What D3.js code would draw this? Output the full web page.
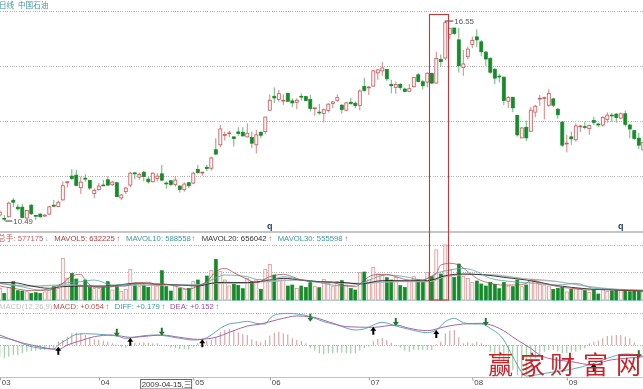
<!DOCTYPE html>
<html>
<head>
<meta charset="utf-8">
<script src="https://cdn.jsdelivr.net/npm/d3@7"></script>
<style>
html, body { margin: 0; padding: 0; background: #fff; overflow: hidden; }
svg { display: block; filter: blur(0.3px); }
text { font-family: "Liberation Sans", "Noto Sans CJK SC", sans-serif; }
</style>
</head>
<body>
<div id="chart"></div>
<script>
var opens = [
10.67,10.57,10.62,11.12,10.91,10.91,10.58,10.97,10.66,10.70,10.64,10.70,
10.97,10.93,11.13,11.65,11.85,11.88,11.50,11.79,11.72,11.32,11.44,11.58,
11.74,11.59,11.65,11.19,11.38,11.58,11.95,11.82,11.97,11.76,11.68,11.78,
11.92,11.64,11.71,11.60,11.55,11.44,11.65,11.64,12.05,11.95,12.12,12.09,
12.65,12.80,13.08,13.14,13.04,13.19,13.18,13.04,13.02,12.80,13.18,13.20,
13.85,14.27,14.17,14.13,14.36,14.13,14.09,14.27,14.26,14.17,13.90,13.79,
13.75,13.84,14.05,14.15,14.00,13.85,14.09,14.06,13.99,14.57,14.53,14.58,
14.98,15.04,15.08,14.63,14.54,14.63,14.49,14.42,14.56,14.92,14.71,14.70,
14.96,14.67,15.39,15.43,16.15,16.34,15.98,15.14,15.47,15.84,16.07,15.92,
15.61,15.42,15.09,14.88,14.85,14.12,14.24,13.69,13.01,13.33,13.21,13.79,
14.19,14.21,14.00,14.19,13.88,13.49,12.83,13.04,12.95,13.35,13.35,13.29,
13.54,13.43,13.40,13.57,13.70,13.73,13.61,13.74,13.40,13.23,13.00,12.65];
var closes = [
10.76,10.55,11.03,11.06,10.86,10.60,10.81,10.71,10.64,10.62,10.67,10.92,
10.94,11.06,11.56,11.68,11.78,11.57,11.67,11.76,11.49,11.42,11.55,11.56,
11.58,11.67,11.23,11.28,11.49,11.94,11.92,11.90,11.84,11.68,11.94,11.85,
11.73,11.62,11.60,11.73,11.45,11.61,11.56,11.94,11.96,11.97,12.08,12.40,
12.52,13.28,13.11,13.16,12.99,13.14,13.07,13.15,12.85,13.10,13.09,13.64,
14.15,14.22,14.35,14.15,14.12,14.07,14.15,14.25,14.14,13.90,13.92,13.77,
13.86,14.03,14.10,14.23,13.87,14.07,14.05,13.99,14.43,14.45,14.55,15.04,
15.07,15.13,14.80,14.59,14.63,14.54,14.42,14.50,14.84,14.72,14.59,14.97,
14.67,15.42,15.32,16.50,16.33,16.17,15.20,15.25,15.70,15.96,15.98,15.62,
15.40,15.00,14.82,14.86,14.14,14.23,13.92,13.10,13.31,13.01,13.85,13.97,
14.21,14.23,14.36,14.00,13.71,12.79,12.85,12.98,13.37,13.37,13.33,13.39,
13.48,13.40,13.63,13.70,13.69,13.63,13.74,13.42,13.28,12.99,12.79,12.87];
var highs = [
10.83,10.67,11.08,11.18,11.00,11.01,10.83,11.00,10.66,10.73,10.70,10.95,
11.13,11.11,11.69,11.69,12.06,12.04,11.84,11.91,11.74,11.48,11.64,11.74,
11.84,11.71,11.66,11.31,11.53,11.98,11.96,11.96,12.00,11.82,11.96,11.94,
12.19,11.69,11.73,11.84,11.57,11.66,11.67,11.98,12.19,11.99,12.19,12.44,
13.00,13.40,13.20,13.23,13.05,13.33,13.33,13.45,13.20,13.25,13.20,13.65,
14.33,14.54,14.46,14.33,14.38,14.21,14.21,14.36,14.28,14.31,13.92,14.04,
13.90,14.06,14.13,14.33,14.04,14.09,14.22,14.11,14.48,14.83,14.58,15.07,
15.09,15.31,15.10,14.77,14.72,14.67,14.53,14.64,14.85,14.97,14.77,14.99,
14.99,15.62,15.54,16.55,16.33,16.34,16.34,15.67,15.78,16.08,16.30,15.98,
15.63,15.45,15.12,14.95,14.86,14.28,14.25,13.70,13.33,13.53,13.94,14.01,
14.31,14.26,14.48,14.23,13.91,13.50,13.10,13.20,13.45,13.40,13.50,13.41,
13.65,13.47,13.67,13.78,13.76,13.76,13.78,13.84,13.42,13.25,13.16,13.05];
var lows = [
10.62,10.49,10.60,10.91,10.81,10.57,10.56,10.67,10.52,10.59,10.62,10.67,
10.91,10.91,11.11,11.51,11.74,11.55,11.31,11.68,11.43,11.18,11.41,11.55,
11.55,11.55,11.21,11.13,11.31,11.51,11.76,11.74,11.69,11.62,11.66,11.69,
11.70,11.47,11.55,11.53,11.35,11.38,11.49,11.62,11.92,11.86,12.00,12.02,
12.49,12.72,12.93,13.03,12.75,13.07,13.05,13.03,12.70,12.54,13.00,13.13,
13.83,14.06,14.11,14.01,14.11,13.94,13.88,14.14,14.13,13.81,13.68,13.71,
13.48,13.78,13.91,14.10,13.74,13.82,14.01,13.91,13.84,14.41,14.31,14.56,
14.77,14.89,14.74,14.36,14.34,14.46,14.39,14.40,14.54,14.69,14.48,14.54,
14.64,14.66,15.17,15.37,16.00,16.13,14.99,14.89,15.39,15.73,15.76,15.49,
15.19,14.95,14.64,14.69,14.00,13.91,13.79,13.05,13.00,12.92,13.19,13.64,
13.98,13.57,13.94,13.94,13.59,12.73,12.57,12.80,12.90,13.19,13.27,13.11,
13.40,13.33,13.35,13.47,13.50,13.47,13.57,13.35,13.00,12.95,12.67,12.62];

// volume, thousands of lots
var volumes = [
735,420,798,1155,588,567,525,420,462,420,504,630,
840,735,2625,1365,1680,1323,945,1260,798,714,714,840,
1155,630,840,546,672,1932,1008,840,945,798,945,882,
1848,840,567,945,735,672,735,1155,1260,945,1512,1848,
2562,1785,1260,882,1008,924,714,1365,1155,1260,672,1932,
2247,1575,1260,1365,882,945,735,882,798,1092,840,777,
1302,1050,840,1155,1218,945,735,630,1722,1764,1260,2058,
1638,1575,1407,1260,1428,903,798,1155,1470,1260,1197,1743,
1470,3150,1638,3465,1890,1428,2268,1470,1365,1092,1197,1008,
882,1113,987,714,1113,882,840,1260,840,945,1302,1155,
987,945,882,672,735,798,504,672,735,735,588,483,
630,378,672,546,567,588,672,588,525,588,546,577];

var ma5Idx = [0,3,7,11,14,16,18,19,21,24,26,28,30,33,35,37,40,42,44,46,48,50,52,55,57,60,63,65,67,70,73,76,79,81,83,86,88,91,94,95,97,98,100,102,104,106,109,112,115,117,118,121,124,127,131,134,137,143];
var ma5Val = [882,735,588,630,1050,1512,1617,1260,798,798,882,882,1092,1113,945,987,798,672,882,1155,1785,1995,1722,1302,1092,1470,1617,1470,1260,1155,1155,945,840,1260,1575,1617,1470,1260,1260,1365,1680,2205,2310,2205,1785,1365,1050,945,945,1050,1260,1050,840,735,630,672,630,567];
var ma10Idx = [0,4,9,12,14,18,21,25,30,34,39,44,47,50,55,57,60,63,67,71,76,80,83,86,90,94,97,100,103,106,109,114,119,124,128,132,137,143];
var ma10Val = [1050,882,630,798,1050,1155,1260,945,1008,1050,945,945,1260,1575,1470,1302,1260,1470,1260,1092,882,1008,1365,1575,1470,1260,1680,1890,1995,1785,1365,1155,1050,945,1050,735,672,630];
var ma20Idx = [0,3,7,11,14,19,24,30,35,40,44,47,50,55,59,63,67,71,77,80,85,91,95,96,99,103,108,112,117,123,127,132,137,143];
var ma20Val = [1092,1092,882,735,840,882,882,1050,1008,945,882,1050,1113,1092,1218,1365,1260,1155,1092,1008,1218,1218,1218,1260,1533,1638,1575,1428,1260,945,798,672,630,567];
var ma30Idx = [0,7,15,22,30,37,44,47,52,59,66,73,80,88,95,99,105,110,116,124,131,137,143];
var ma30Val = [1050,882,945,840,945,945,945,1050,1050,1155,1260,1092,1050,1155,1155,1470,1617,1575,1365,1155,840,672,588];

var macdBars = [
-.231,-.264,-.231,-.198,-.198,-.165,-.132,-.119,-.112,-.099,-.099,-.086,
-.066,.066,.099,.165,.231,.244,.231,.198,.152,.112,.099,.086,
.066,.033,-.013,-.033,-.053,.033,.046,.046,.053,.046,.033,.033,
0,-.02,-.053,-.066,-.079,-.079,-.086,-.033,.033,.066,.086,.099,
.152,.264,.297,.317,.297,.251,.218,.198,.112,.079,.053,.099,
.185,.244,.264,.231,.211,.132,.099,.079,.033,-.066,-.112,-.165,
-.185,-.165,-.165,-.152,-.152,-.165,-.165,-.165,-.112,-.066,-.033,.079,
.119,.139,.099,.046,-.013,-.053,-.112,-.132,-.099,-.099,-.099,-.099,
-.099,.013,.066,.231,.284,.297,.152,.033,.053,.033,.066,.033,
-.033,-.132,-.231,-.297,-.363,-.429,-.495,-.594,-.64,-.594,-.363,-.264,
-.198,-.132,-.099,-.099,-.132,-.165,-.165,-.132,-.132,-.099,-.066,.033,
.066,.086,.132,.178,.185,.198,.198,.165,.132,.046,0,-.086];

var diffIdx = [0,3,7,12,13,15,17,19,24,26,28,30,32,35,37,40,43,45,47,49,51,53,55,57,59,60,62,64,66,69,72,75,79,81,83,85,88,91,95,97,99,101,103,105,107,109,112,114,117,122,127,132,135,139,142,143];
var diffVal = [.152,.099,-.033,-.079,0,.112,.211,.224,.198,.178,.132,.152,.185,.198,.178,.132,.099,.112,.198,.33,.416,.442,.469,.429,.416,.528,.614,.627,.614,.561,.462,.396,.297,.317,.396,.449,.376,.31,.244,.297,.462,.528,.442,.416,.416,.33,.099,-.231,-.614,-.548,-.482,-.363,-.264,-.178,-.198,-.231];
var deaIdx = [0,4,7,13,15,18,21,25,29,33,36,40,44,47,52,55,58,62,66,69,73,77,83,88,91,95,99,103,107,111,115,118,120,122,127,132,135,139,143];
var deaVal = [.198,.066,0,-.086,0,.086,.165,.198,.152,.178,.198,.152,.112,.132,.284,.376,.416,.508,.574,.561,.462,.363,.35,.396,.33,.284,.363,.416,.429,.33,.099,-.066,-.198,-.264,-.33,-.396,-.31,-.264,-.231];

var buyIdx = [13,29,45,83,97,132];
var buyVal = [-.033,.145,.112,.363,.297,-.363];
var sellIdx = [26,36,69,88,108,142];
var sellVal = [.165,.185,.462,.376,.376,-.264];

var monthIdx = [0,22,43,60,82,105,126];
var monthLabels = ["03","04","05","06","07","08","09"];
var markerIdx = [60,138];

var priceGrid = [11.84,13.51,15.18,16.85];
var volumeGrid = [1743,3444];
var macdGrid = [0,.627];

var volHeader = [
	{t:"总手: 577175", x:-2, c:"#c0605e"}, {t:"↓", x:45, c:"#55c4d6", b:1},
	{t:"MAVOL5: 632225", x:54.3, c:"#a8403c"}, {t:"↑", x:116.5, c:"#d23a34", b:1},
	{t:"MAVOL10: 588558", x:126, c:"#3f95a3"}, {t:"↑", x:191.5, c:"#d23a34", b:1},
	{t:"MAVOL20: 656042", x:201.7, c:"#333"}, {t:"↑", x:268.5, c:"#d23a34", b:1},
	{t:"MAVOL30: 555598", x:277.7, c:"#3f95a3"}, {t:"↑", x:344.5, c:"#d23a34", b:1}
];
var macdHeader = [
	{t:"MACD(12,26,9)", x:-1, c:"#c4c4c4"},
	{t:"MACD: +0.054", x:53.3, c:"#c0504d"}, {t:"↑", x:105.5, c:"#d23a34", b:1},
	{t:"DIFF: +0.179", x:114.7, c:"#3f95a3"}, {t:"↑", x:161.5, c:"#d23a34", b:1},
	{t:"DEA: +0.152", x:170, c:"#9a4f9c"}, {t:"↑", x:215.5, c:"#d23a34", b:1}
];

var width = 643, height = 389;
var svg = d3.select("#chart").append("svg").attr("width", width).attr("height", height);

var x = d3.scaleLinear().domain([0, 143]).range([-0.2, 643.3]);
var yPrice = d3.scaleLinear().domain([10, 17]).range([237.2, 6.2]);
var yVol = d3.scaleLinear().domain([0, 4410]).range([300, 230]);
var yMacd = d3.scaleLinear().domain([-1, 1]).range([395.5, 294.5]);

var RED = "#c9565a", GREEN = "#178a2b";
var candles = d3.range(opens.length);
var isUp = function(i){ return closes[i] >= opens[i]; };

function grid(scale, values){
	var g = svg.append("g").attr("class", "grid")
		.attr("transform", "translate(" + width + ",0)")
		.call(d3.axisLeft(scale).tickValues(values).tickSize(width).tickFormat(""));
	g.select(".domain").remove();
	g.selectAll("line").attr("stroke", "#b2b2b2").attr("stroke-dasharray", "1,1.3").attr("shape-rendering", "crispEdges");
}
grid(yPrice, priceGrid);
grid(yVol, volumeGrid);
grid(yMacd, macdGrid);

// panel separators
svg.append("rect").attr("x", 0).attr("y", 231).attr("width", width).attr("height", 2).attr("fill", "#c6c6c6");
svg.append("line").attr("x1", 0).attr("x2", width).attr("y1", 300.5).attr("y2", 300.5).attr("stroke", "#a8e6e6");
svg.append("line").attr("x1", 0).attr("x2", width).attr("y1", 377.5).attr("y2", 377.5).attr("stroke", "#86dcdc");

// candles
var wick = svg.append("g");
wick.selectAll("line").data(candles).enter().append("line")
	.attr("x1", function(i){ return x(i); })
	.attr("x2", function(i){ return x(i); })
	.attr("y1", function(i){ return yPrice(highs[i]); })
	.attr("y2", function(i){ return yPrice(lows[i]); })
	.attr("stroke", function(i){ return isUp(i) ? "#cf7476" : "#5cad68"; })
	.attr("stroke-width", 0.9);
svg.append("g").selectAll("rect").data(candles).enter().append("rect")
	.attr("x", function(i){ return x(i) - 1.5; })
	.attr("width", 3)
	.attr("y", function(i){ return yPrice(Math.max(opens[i], closes[i])); })
	.attr("height", function(i){ return Math.max(0.8, Math.abs(yPrice(opens[i]) - yPrice(closes[i]))); })
	.attr("fill", function(i){ return isUp(i) ? "#fff6f6" : GREEN; })
	.attr("stroke", function(i){ return isUp(i) ? RED : GREEN; })
	.attr("stroke-width", 0.8);

// high and low tags
svg.append("path").attr("d", d3.line()([[x(1) + 1, yPrice(10.49)], [x(1) + 8, yPrice(10.49)]])).attr("stroke", "#222").attr("stroke-width", 0.9);
svg.append("text").attr("x", x(1) + 9).attr("y", yPrice(10.49) + 3).attr("font-size", 7.8).attr("fill", "#555").text("10.49");
svg.append("path").attr("d", d3.line()([[x(99) - 0.5, yPrice(16.55)], [x(99) + 8, yPrice(16.55)]])).attr("stroke", "#222").attr("stroke-width", 0.9);
svg.append("text").attr("x", x(99) + 9).attr("y", yPrice(16.55) + 3).attr("font-size", 7.8).attr("fill", "#555").text("16.55");

svg.append("g").selectAll("text").data(markerIdx).enter().append("text")
	.attr("x", function(i){ return x(i); })
	.attr("y", 228.5)
	.attr("text-anchor", "middle")
	.attr("font-size", 9)
	.attr("font-weight", "bold")
	.attr("fill", "#24455c")
	.text("q");

// volume
svg.append("g").selectAll("rect").data(candles).enter().append("rect")
	.attr("x", function(i){ return x(i) - 1.5; })
	.attr("width", 3)
	.attr("y", function(i){ return yVol(volumes[i]); })
	.attr("height", function(i){ return yVol(0) - yVol(volumes[i]); })
	.attr("fill", function(i){ return isUp(i) ? "#fff4f4" : GREEN; })
	.attr("stroke", function(i){ return isUp(i) ? "#d58a8c" : GREEN; })
	.attr("stroke-width", 0.7);

function trace(idx, vals, scale, color, w){
	var line = d3.line()
		.x(function(d){ return x(d[0]); })
		.y(function(d){ return scale(d[1]); })
		.curve(d3.curveMonotoneX);
	svg.append("path")
		.attr("d", line(d3.zip(idx, vals)))
		.attr("fill", "none")
		.attr("stroke", color)
		.attr("stroke-width", w);
}
trace(ma30Idx, ma30Val, yVol, "#b0b6b6", 1.4);
trace(ma20Idx, ma20Val, yVol, "#222", 0.9);
trace(ma10Idx, ma10Val, yVol, "#56a3ad", 0.8);
trace(ma5Idx, ma5Val, yVol, "#a8403c", 0.7);

// macd
svg.append("g").selectAll("line").data(candles).enter().append("line")
	.attr("x1", function(i){ return x(i); })
	.attr("x2", function(i){ return x(i); })
	.attr("y1", yMacd(0))
	.attr("y2", function(i){ return yMacd(macdBars[i]); })
	.attr("stroke", function(i){ return macdBars[i] >= 0 ? "#cf8a8c" : "#80bf88"; })
	.attr("stroke-width", 0.9);
trace(diffIdx, diffVal, yMacd, "#4f9fa8", 0.9);
trace(deaIdx, deaVal, yMacd, "#a565a8", 1);

var arrowUp = "M0,0 L3,4 L1,4 L1,8 L-1,8 L-1,4 L-3,4 Z";
var arrowDown = "M0,0 L3,-4 L1,-4 L1,-8 L-1,-8 L-1,-4 L-3,-4 Z";
svg.append("g").selectAll("path").data(buyIdx).enter().append("path")
	.attr("d", arrowUp).attr("fill", "#000")
	.attr("transform", function(i, n){ return "translate(" + x(i) + "," + yMacd(buyVal[n]) + ")"; });
svg.append("g").selectAll("path").data(sellIdx).enter().append("path")
	.attr("d", arrowDown).attr("fill", "#1c7a2c")
	.attr("transform", function(i, n){ return "translate(" + x(i) + "," + yMacd(sellVal[n]) + ")"; });

// date axis
var axis = svg.append("g").attr("transform", "translate(0,377.5)")
	.call(d3.axisBottom(x).tickValues(monthIdx).tickSize(3)
		.tickFormat(function(d, n){ return monthLabels[n]; }));
axis.select(".domain").remove();
axis.selectAll("line").attr("stroke", "#999");
axis.selectAll("text").attr("text-anchor", "start").attr("x", 1.5).attr("y", 2).attr("dy", "0.7em")
	.attr("font-size", 7.8).attr("font-family", null).attr("fill", "#444");

svg.append("rect").attr("x", 140.7).attr("y", 379.5).attr("width", 51).attr("height", 9.5)
	.attr("fill", "#fff").attr("stroke", "#444").attr("stroke-width", 0.8);
svg.append("text").attr("x", 141.7).attr("y", 387).attr("font-size", 7.8).attr("fill", "#333").text("2009-04-15,三");

// headers
function header(list, yPos){
	svg.append("g").selectAll("text").data(list).enter().append("text")
		.attr("x", function(d){ return d.x; })
		.attr("y", yPos)
		.attr("font-size", 7.7)
		.attr("font-weight", function(d){ return d.b ? "bold" : null; })
		.attr("fill", function(d){ return d.c; })
		.text(function(d){ return d.t; });
}
svg.append("text").attr("x", -1).attr("y", 7.5).attr("font-size", 7.6).attr("fill", "#3f95a3").text("日线");
svg.append("text").attr("x", 18).attr("y", 7.5).attr("font-size", 7.6).attr("fill", "#3f95a3").text("中国石油");
header(volHeader, 241);
header(macdHeader, 309);

// selection box around the peak
svg.append("rect").attr("x", 429.5).attr("y", 14.5).attr("width", 19).attr("height", 285.5)
	.attr("fill", "none").attr("stroke", "#c8383a").attr("stroke-width", 1.1);

svg.append("text")
	.attr("x", "488 520 550 583 616")
	.attr("y", 374)
	.attr("font-size", 25)
	.attr("font-family", "Noto Sans CJK SC")
	.attr("font-weight", 400)
	.attr("fill", "#c8232a")
	.text("赢家财富网");
</script>
</body>
</html>
